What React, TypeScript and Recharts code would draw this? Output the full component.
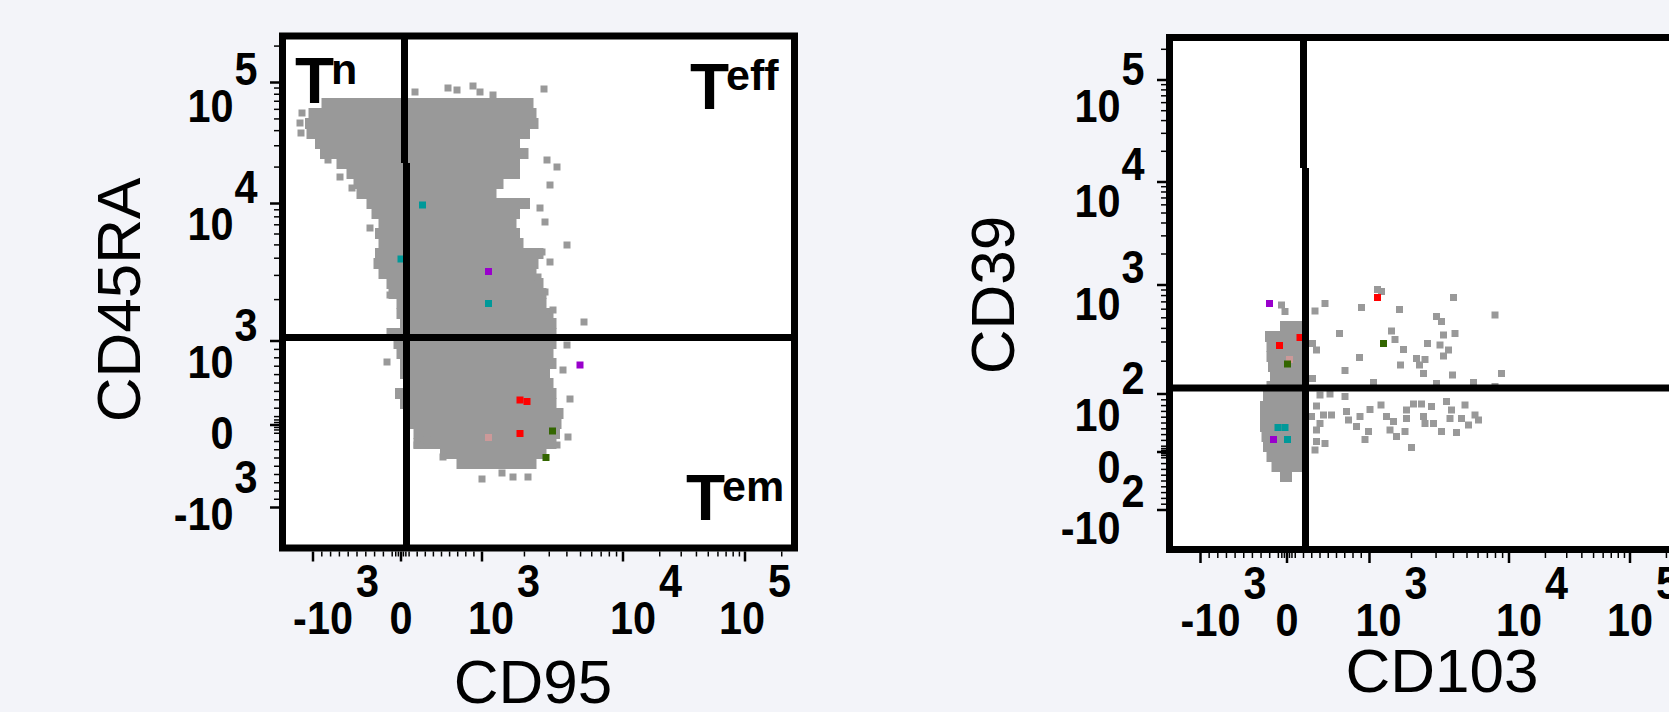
import React from 'react'
import { ScatterChart, Scatter, XAxis, YAxis, ReferenceArea, ReferenceLine } from 'recharts'

// all positions are display channels (0-1024) of the biexponential flow axes

// ---- axes ----
const cd95Ticks = [61, 237, 399, 681, 925]
const cd95Labels = [['-10', '3'], ['0', ''], ['10', '3'], ['10', '4'], ['10', '5']]
const cd45raTicks = [81, 246, 414, 689, 931]
const cd45raLabels = [['-10', '3'], ['0', ''], ['10', '3'], ['10', '4'], ['10', '5']]
const cd103Ticks = [62, 235, 400, 679, 921]
const cd103Labels = [['-10', '3'], ['0', ''], ['10', '3'], ['10', '4'], ['10', '5']]
const cd39Ticks = [79, 195, 311, 529, 735, 939]
const cd39Labels = [['-10', '2'], ['0', ''], ['10', '2'], ['10', '3'], ['10', '4'], ['10', '5']]

// gates: vertical line has a small step at the given height
const cd95Gate = { upper: 244, lower: 248, step: 770 }
const cd45raGate = 421
const cd103Gate = { upper: 268, lower: 272, step: 763 }
const cd39Gate = 323

// ---- CD95 / CD45RA: dense population as rows (center y, left x, right x) ----
const tnCloudY = [889, 869, 849, 829, 809, 789, 769, 749, 729, 709, 689, 669, 649, 629, 609, 589, 569, 549, 529, 509, 489, 469, 449, 429, 409, 389, 369, 349, 329, 309, 289, 269, 249, 229, 209, 189, 169]
const tnCloudL = [78, 52, 45, 48, 65, 75, 108, 128, 142, 148, 168, 178, 192, 185, 192, 185, 182, 192, 208, 212, 228, 228, 235, 208, 222, 228, 235, 235, 242, 225, 235, 242, 255, 262, 262, 315, 348]
const tnCloudR = [502, 508, 512, 495, 475, 492, 475, 475, 442, 428, 495, 475, 468, 475, 482, 522, 512, 508, 522, 528, 528, 542, 548, 548, 548, 542, 548, 535, 542, 548, 548, 562, 558, 555, 548, 528, 508]

const tnStrays = [
  [265, 912], [331, 920], [349, 916], [381, 924], [395, 912], [421, 906], [523, 918],
  [39, 870], [35, 850], [37, 830],
  [529, 776], [549, 762], [535, 726], [515, 680], [525, 652], [569, 606], [519, 592], [535, 572],
  [511, 542], [525, 512], [541, 476], [603, 452], [569, 406], [575, 298], [561, 356], [571, 222], [549, 206],
  [91, 776], [115, 742], [139, 720], [175, 640], [215, 506], [209, 372],
  [399, 138], [439, 150], [461, 142], [491, 142], [321, 182], [269, 206], [289, 216],
]

const tnColored = [
  { x: 280, y: 686, c: 'teal' }, { x: 237, y: 578, c: 'teal' }, { x: 412, y: 553, c: 'purple' },
  { x: 412, y: 489, c: 'teal' }, { x: 595, y: 366, c: 'purple' }, { x: 475, y: 296, c: 'red' },
  { x: 489, y: 293, c: 'red' }, { x: 475, y: 229, c: 'red' }, { x: 412, y: 221, c: 'pink' },
  { x: 540, y: 234, c: 'green' }, { x: 527, y: 181, c: 'green' },
]

const tnNotes = [
  { x: 25, y: 890, main: 'T', sup: 'n' },
  { x: 815, y: 879, main: 'T', sup: 'eff' },
  { x: 807, y: 56, main: 'T', sup: 'em' },
]

// ---- CD103 / CD39 ----
const cd39BlobY = [446, 426, 406, 386, 366, 346, 326, 306, 286, 266, 246, 226, 206, 186, 166, 146]
const cd39BlobL = [221, 191, 194, 194, 197, 201, 194, 187, 181, 181, 181, 184, 187, 194, 204, 221]
const cd39BlobR = [267, 267, 267, 267, 267, 267, 267, 267, 267, 267, 267, 267, 267, 267, 267, 245]

const cd39Strays = [
  [224, 489], [231, 476], [291, 477], [311, 492], [340, 432], [286, 412], [294, 399], [286, 342],
  [351, 358], [380, 384], [384, 484], [416, 520], [424, 516], [460, 480], [444, 437], [451, 420],
  [468, 400], [462, 369], [494, 382], [511, 380], [500, 369], [508, 352], [516, 412], [534, 466],
  [544, 456], [548, 429], [571, 432], [541, 409], [558, 399], [548, 387], [566, 349], [568, 504],
  [651, 469], [664, 352], [408, 334], [534, 332], [608, 334], [651, 326],
  [301, 309], [321, 311], [351, 306], [294, 287], [284, 266], [308, 269], [324, 269], [354, 276],
  [358, 259], [381, 266], [401, 280], [374, 246], [398, 236], [391, 220], [423, 289], [434, 266],
  [448, 256], [441, 239], [454, 226], [474, 279], [474, 262], [488, 291], [504, 291], [524, 286],
  [508, 266], [511, 252], [484, 204], [471, 236], [554, 296], [564, 279], [561, 262], [544, 236],
  [574, 234], [591, 289], [611, 269], [618, 259], [598, 249], [584, 262], [294, 239], [301, 252],
  [294, 216], [311, 212], [291, 199], [528, 252],
]

const cd39Colored = [
  { x: 200, y: 492, c: 'purple' }, { x: 220, y: 408, c: 'red' }, { x: 261, y: 424, c: 'red' },
  { x: 236, y: 371, c: 'green' }, { x: 240, y: 380, c: 'pink' }, { x: 217, y: 244, c: 'teal' },
  { x: 231, y: 244, c: 'teal' }, { x: 236, y: 220, c: 'teal' }, { x: 208, y: 220, c: 'purple' },
  { x: 416, y: 504, c: 'red' }, { x: 428, y: 412, c: 'green' },
]

// ---- look ----
const BG = '#f3f4f9'
const GRAY = '#999999'
const PALETTE: Record<string, string> = {
  teal: '#009999',
  purple: '#9900cc',
  red: '#ff0000',
  pink: '#cc9999',
  green: '#336600',
}
const FONT = '"Liberation Sans", Arial, Helvetica, sans-serif'
const TICK_SIZE = 46
const TICK_SQUEEZE = 0.9 // tick digits in the figure are a bit narrower than Arial
const TICK_FONT = { fontFamily: FONT, fontWeight: 700, fontSize: TICK_SIZE, fill: '#000' }
const W = 840
const H = 712
const PLOT = 512
const AX = 100
const DOMAIN: [number, number] = [0, 1024]
const FRAME = 7

const textW = (s: string) =>
  s.split('').reduce((w, ch) => w + (ch === '-' ? 0.333 : 0.556) * TICK_SIZE * TICK_SQUEEZE, 0)

// decorative minor ticks: linear steps around zero, log steps inside decades
function minorTicks(majors: number[]) {
  const out: number[] = []
  const [n, z, p] = majors
  for (let k = 1; k < 10; k++) {
    out.push(n + ((z - n) * k) / 10)
    out.push(z + ((p - z) * k) / 10)
  }
  for (const f of [0.03, 0.06]) {
    out.push(z - (z - n) * f)
    out.push(z + (p - z) * f)
  }
  for (let i = 2; i < majors.length; i++) {
    const a = majors[i]
    const span = i + 1 < majors.length ? majors[i + 1] - a : a - majors[i - 1]
    for (let m = 2; m < 10; m++) {
      const v = a + Math.log10(m) * span
      if (v < 1022) out.push(v)
    }
  }
  return out
}

function TickText({ x, y, anchor, children }: any) {
  return (
    <text
      transform={`translate(${x} ${y}) scale(${TICK_SQUEEZE} 1)`}
      textAnchor={anchor}
      {...TICK_FONT}
    >
      {children}
    </text>
  )
}

function XTick({ x, y, payload, majors, labels, dxs }: any) {
  const i = majors.indexOf(payload.value)
  const y0 = y + FRAME / 2
  if (i < 0) return <line x1={x} x2={x} y1={y0} y2={y0 + 5} stroke="#000" strokeWidth={1.5} />
  const [base, exp] = labels[i]
  const cx = x + dxs[i]
  return (
    <g>
      <line x1={x} x2={x} y1={y0} y2={y0 + 10} stroke="#000" strokeWidth={2.5} />
      <TickText x={cx} y={y + 86} anchor="middle">{base}</TickText>
      {exp ? <TickText x={cx + textW(base) / 2 + 3} y={y + 49} anchor="start">{exp}</TickText> : null}
    </g>
  )
}

function YTick({ x, y, payload, majors, labels, dys }: any) {
  const i = majors.indexOf(payload.value)
  const x0 = x - FRAME / 2
  if (i < 0) return <line x1={x0} x2={x0 - 5} y1={y} y2={y} stroke="#000" strokeWidth={1.5} />
  const [base, exp] = labels[i]
  return (
    <g>
      <line x1={x0} x2={x0 - 9} y1={y} y2={y} stroke="#000" strokeWidth={2.5} />
      <TickText x={x - 49} y={y + dys[i]} anchor="end">{base}</TickText>
      {exp ? <TickText x={x - 48} y={y + dys[i] - 37} anchor="start">{exp}</TickText> : null}
    </g>
  )
}

function AxisTitle({ viewBox, text, dx, dy, vertical }: any) {
  if (!viewBox) return null
  const ox = vertical ? viewBox.x + viewBox.width : viewBox.x
  const x = ox + dx
  const y = viewBox.y + dy
  return (
    <text
      x={x}
      y={y}
      textAnchor="middle"
      transform={vertical ? `rotate(-90 ${x} ${y})` : undefined}
      fontFamily={FONT}
      fontSize={62}
      fill="#000"
    >
      {text}
    </text>
  )
}

const squareShape = (props: any) => {
  const { cx, cy, fill } = props
  if (cx == null || cy == null) return <g />
  return <rect x={cx - 3.5} y={cy - 3.5} width={7} height={7} fill={fill} />
}

const noteShape = (props: any) => {
  const { cx, cy } = props
  const d = props.payload ?? props
  if (cx == null || cy == null) return <g />
  return (
    <text x={cx} y={cy} fontFamily={FONT} fontWeight={700} fill="#000">
      <tspan fontSize={64}>{d.main}</tspan>
      <tspan fontSize={43} dx={-3} dy={-19}>{d.sup}</tspan>
    </text>
  )
}

interface FlowPlotProps {
  left: number
  top: number
  xTicks: number[]
  xLabels: string[][]
  xLabelDx: number[]
  yTicks: number[]
  yLabels: string[][]
  yLabelDy: number[]
  xTitle: { text: string; dx: number; dy: number }
  yTitle: { text: string; dx: number; dy: number }
  cloudY: number[]
  cloudL: number[]
  cloudR: number[]
  strays: number[][]
  colored: { x: number; y: number; c: string }[]
  gateX: { upper: number; lower: number; step: number }
  gateY: number
  notes?: { x: number; y: number; main: string; sup: string }[]
}

function FlowPlot(p: FlowPlotProps) {
  const strayPts = p.strays.map(([x, y]) => ({ x, y }))
  return (
    <div style={{ position: 'absolute', left: p.left, top: 0, width: W, height: H }}>
      <ScatterChart
        width={W}
        height={H}
        margin={{ top: p.top, right: W - 282.5 - PLOT, bottom: H - p.top - PLOT - AX, left: 282.5 - AX }}
      >
        <XAxis
          type="number"
          dataKey="x"
          domain={DOMAIN}
          allowDataOverflow
          ticks={[...p.xTicks, ...minorTicks(p.xTicks)]}
          interval={0}
          height={AX}
          axisLine={false}
          tickLine={false}
          tickSize={0}
          tickMargin={0}
          tick={(t: any) => <XTick {...t} majors={p.xTicks} labels={p.xLabels} dxs={p.xLabelDx} />}
          label={<AxisTitle text={p.xTitle.text} dx={p.xTitle.dx} dy={p.xTitle.dy} />}
        />
        <YAxis
          type="number"
          dataKey="y"
          domain={DOMAIN}
          allowDataOverflow
          ticks={[...p.yTicks, ...minorTicks(p.yTicks)]}
          interval={0}
          width={AX}
          axisLine={false}
          tickLine={false}
          tickSize={0}
          tickMargin={0}
          tick={(t: any) => <YTick {...t} majors={p.yTicks} labels={p.yLabels} dys={p.yLabelDy} />}
          label={<AxisTitle text={p.yTitle.text} dx={p.yTitle.dx} dy={p.yTitle.dy} vertical />}
        />
        <ReferenceArea x1={0} x2={1024} y1={0} y2={1024} fill="#ffffff" fillOpacity={1} stroke="none" zIndex={-200} />
        {p.cloudY.map((cy, i) => (
          <ReferenceArea
            key={`row-${i}`}
            x1={p.cloudL[i]}
            x2={p.cloudR[i]}
            y1={cy - 11}
            y2={cy + 11}
            fill={GRAY}
            fillOpacity={1}
            stroke="none"
            zIndex={100}
          />
        ))}
        <Scatter data={strayPts} fill={GRAY} shape={squareShape} isAnimationActive={false} zIndex={600} />
        {Object.keys(PALETTE).map((k) => (
          <Scatter
            key={k}
            data={p.colored.filter((d) => d.c === k)}
            fill={PALETTE[k]}
            shape={squareShape}
            isAnimationActive={false}
            zIndex={650}
          />
        ))}
        <ReferenceLine
          segment={[{ x: p.gateX.upper, y: p.gateX.step }, { x: p.gateX.upper, y: 1024 }]}
          stroke="#000"
          strokeWidth={FRAME}
          zIndex={700}
        />
        <ReferenceLine
          segment={[{ x: p.gateX.lower, y: 0 }, { x: p.gateX.lower, y: p.gateX.step }]}
          stroke="#000"
          strokeWidth={FRAME}
          zIndex={700}
        />
        <ReferenceLine y={p.gateY} stroke="#000" strokeWidth={FRAME} zIndex={700} />
        <ReferenceArea x1={0} x2={1024} y1={0} y2={1024} fill="none" stroke="#000" strokeWidth={FRAME} zIndex={800} />
        {p.notes ? <Scatter data={p.notes} shape={noteShape} isAnimationActive={false} zIndex={900} /> : null}
      </ScatterChart>
    </div>
  )
}

export default function App() {
  return (
    <div
      style={{
        position: 'fixed',
        left: 0,
        top: 0,
        width: 1669,
        height: 712,
        overflow: 'hidden',
        background: BG,
      }}
    >
      <FlowPlot
        left={0}
        top={36}
        xTicks={cd95Ticks}
        xLabels={cd95Labels}
        xLabelDx={[10, 0, 9, 10, -3]}
        yTicks={cd45raTicks}
        yLabels={cd45raLabels}
        yLabelDy={[22, 24, 37, 36, 39]}
        xTitle={{ text: 'CD95', dx: 250.5, dy: 155 }}
        yTitle={{ text: 'CD45RA', dx: -142.5, dy: 264 }}
        cloudY={tnCloudY}
        cloudL={tnCloudL}
        cloudR={tnCloudR}
        strays={tnStrays}
        colored={tnColored}
        gateX={cd95Gate}
        gateY={cd45raGate}
        notes={tnNotes}
      />
      <FlowPlot
        left={887}
        top={37.5}
        xTicks={cd103Ticks}
        xLabels={cd103Labels}
        xLabelDx={[10, 0, 9, 10, 0]}
        yTicks={cd39Ticks}
        yLabels={cd39Labels}
        yLabelDy={[34, 31, 37, 35, 35, 42]}
        xTitle={{ text: 'CD103', dx: 272.5, dy: 142.5 }}
        yTitle={{ text: 'CD39', dx: -155.5, dy: 257.5 }}
        cloudY={cd39BlobY}
        cloudL={cd39BlobL}
        cloudR={cd39BlobR}
        strays={cd39Strays}
        colored={cd39Colored}
        gateX={cd103Gate}
        gateY={cd39Gate}
      />
    </div>
  )
}
